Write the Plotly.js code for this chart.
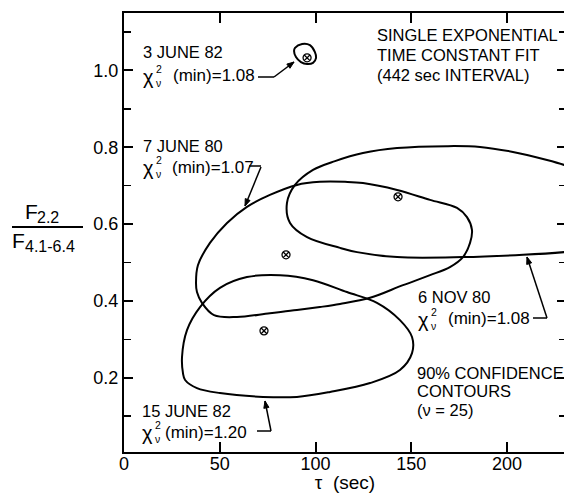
<!DOCTYPE html>
<html>
<head>
<meta charset="utf-8">
<script src="https://cdn.plot.ly/plotly-3.0.1.min.js"></script>
<style>
html,body{margin:0;padding:0;overflow:hidden;background:#fff;}
#chart{width:570px;height:493px;}
</style>
</head>
<body>
<div id="chart"></div>
<script>
// ---- data (tau in sec, flux ratio) ----
const jun82a_tau = [89.3,93.0,97.1,99.7,100.3,98.7,95.6,92.4,89.8,88.8,89.3];
const jun82a_ratio = [1.059,1.069,1.066,1.048,1.033,1.020,1.017,1.022,1.035,1.051,1.059];

const jun80_tau = [37.6,38.6,44.9,53.8,64.2,76.2,90.3,102.3,115.4,124.8,142.6,159.8,173.9,179.1,181.7,180.7,177.0,170.2,159.8,145.7,128.5,112.8,102.3,90.3,76.2,59.0,47.0,40.7,38.1,37.6];
const jun80_ratio = [0.447,0.493,0.551,0.603,0.645,0.676,0.702,0.710,0.710,0.707,0.689,0.663,0.642,0.618,0.585,0.551,0.514,0.488,0.467,0.441,0.408,0.392,0.384,0.376,0.368,0.358,0.363,0.395,0.423,0.447];

const nov80_tau = [235.5,229.8,208.4,177.0,142.6,121.7,112.8,95.6,86.7,85.1,89.3,98.7,110.2,124.8,142.6,168.7,185.9,203.1,220.9,229.8,235.5];
const nov80_ratio = [0.530,0.527,0.520,0.514,0.514,0.527,0.538,0.566,0.603,0.655,0.702,0.741,0.764,0.785,0.798,0.803,0.801,0.788,0.767,0.754,0.743];

const jun82b_tau = [30.8,30.3,32.9,39.7,50.1,64.2,81.5,98.7,116.4,132.1,144.1,150.4,150.4,144.1,128.5,107.6,90.3,72.6,50.1,38.1,31.9,30.8];
const jun82b_ratio = [0.212,0.254,0.324,0.384,0.434,0.462,0.467,0.454,0.423,0.395,0.350,0.306,0.264,0.220,0.186,0.163,0.150,0.150,0.160,0.173,0.194,0.212];

const best_tau = [95.6, 84.6, 143.1, 73.1];
const best_ratio = [1.033, 0.520, 0.671, 0.322];

const dates = ["3 JUNE 82", "7 JUNE 80", "6 NOV 80", "15 JUNE 82"];
const chiMin = ["1.08", "1.07", "1.08", "1.20"];
const xTicks = [0, 50, 100, 150, 200];
const yTicks = [0.2, 0.4, 0.6, 0.8, 1.0];

// ---- layout helpers ----
const FONT = "Liberation Sans, Arial, sans-serif";
const W = 570, H = 493;
const L = 124, T = 13, R = 566, B = 452;
function P(x, y){ return {x:(x-L)/(R-L), y:(B-y)/(B-T)}; }
const anns = [];
const shapes = [];
function txt(text, x, y, size, xanchor){
  const p = P(x, y);
  anns.push({xref:'paper', yref:'paper', x:p.x, y:p.y, text:text, showarrow:false, borderpad:0,
    xanchor:xanchor||'left', yanchor:'middle', align:'left', font:{family:FONT, size:size, color:'#000'}});
}
function seg(x0,y0,x1,y1,w){
  const a = P(x0,y0), b = P(x1,y1);
  shapes.push({type:'line', xref:'paper', yref:'paper', x0:a.x, y0:a.y, x1:b.x, y1:b.y,
    line:{color:'#000', width:w||1.5}});
}
function arrow(tipX, tipY, tailX, tailY){
  seg(tailX, tailY, tipX, tipY, 1.5);
  const dx = tipX-tailX, dy = tipY-tailY, len = Math.hypot(dx,dy);
  const ux = dx/len, uy = dy/len, hl = 7, hw = 2.6;
  const bx = tipX-ux*hl, by = tipY-uy*hl;
  const p1 = P(tipX, tipY), p2 = P(bx-uy*hw, by+ux*hw), p3 = P(bx+uy*hw, by-ux*hw);
  shapes.push({type:'path', xref:'paper', yref:'paper',
    path:'M'+p1.x+','+p1.y+' L'+p2.x+','+p2.y+' L'+p3.x+','+p3.y+' Z',
    fillcolor:'#000', line:{color:'#000', width:1}});
}
function label(i, left, y1, y2, restX){
  txt(dates[i], left, y1, 16.5);
  txt('χ', left, y2+1, 20);
  txt('2<br>ν', left+13, y2, 10.5);
  txt('(min)=' + chiMin[i], restX, y2, 17);
}
label(0, 142, 52, 76, 172);
label(1, 142, 145.5, 167, 171);
label(2, 417, 297, 318.5, 447);
label(3, 141, 410.5, 432, 164);

// leaders
seg(258,77,274,77); arrow(294,62,274,77);
seg(249,166,261,166); arrow(245,206,261,167);
seg(533,318,547,318); arrow(527,257,547,318);
seg(257,431,271,431); arrow(265,401,271,431);

// right-hand notes
txt('SINGLE EXPONENTIAL', 376, 35, 16.5);
txt('TIME CONSTANT FIT', 376, 55, 16.5);
txt('(442 sec INTERVAL)', 376, 75, 16.5);
txt('90% CONFIDENCE', 416, 373, 16.5);
txt('CONTOURS', 416, 391, 16.5);
txt('(ν = 25)', 416, 410, 16.5);

// y title as a fraction
txt('F', 31, 211, 21, 'center');
txt('2.2', 36, 217, 16);
txt('F', 18, 241, 21, 'center');
txt('4.1-6.4', 24, 246, 16);
seg(12,227,83,227,2);

const line = {color:'#000', width:2, shape:'spline', smoothing:1};
function contour(x, y){ return {x:x, y:y, type:'scatter', mode:'lines', line:line, hoverinfo:'skip', showlegend:false}; }
const data = [
  contour(jun82a_tau, jun82a_ratio),
  contour(jun80_tau, jun80_ratio),
  contour(nov80_tau, nov80_ratio),
  contour(jun82b_tau, jun82b_ratio),
  {x:best_tau, y:best_ratio, type:'scatter', mode:'markers', hoverinfo:'skip', showlegend:false,
   marker:{symbol:'circle-x-open', size:8, color:'#000', line:{width:1.3, color:'#000'}}}
];

const layout = {
  width:W, height:H,
  margin:{l:L, r:W-R, t:T, b:H-B},
  paper_bgcolor:'#fff', plot_bgcolor:'#fff',
  font:{family:FONT, color:'#000'},
  showlegend:false,
  xaxis:{range:[0, (R-L)/1.915], tickvals:xTicks, ticktext:xTicks.map(String), ticks:'inside', ticklen:10, tickwidth:2,
    tickcolor:'#000', showline:true, linewidth:2, linecolor:'#000', mirror:'ticks', showgrid:false, zeroline:false,
    tickfont:{family:FONT, size:18, color:'#000'}, ticklabelstandoff:-6,
    title:{text:'τ  (sec)', font:{family:FONT, size:19, color:'#000'}, standoff:10}},
  yaxis:{range:[0.0065, 1.1497], tickvals:yTicks, ticktext:yTicks.map(v=>v.toFixed(1)), ticks:'inside', ticklen:9, tickwidth:2,
    tickcolor:'#000', showline:true, linewidth:2, linecolor:'#000', mirror:'ticks', showgrid:false, zeroline:false,
    tickfont:{family:FONT, size:18, color:'#000'},
    minor:{dtick:0.1, tick0:0, ticks:'inside', ticklen:7, tickwidth:1.5, tickcolor:'#000', showgrid:false}},
  annotations:anns,
  shapes:shapes
};
Plotly.newPlot('chart', data, layout, {staticPlot:true, displayModeBar:false});
</script>
</body>
</html>
